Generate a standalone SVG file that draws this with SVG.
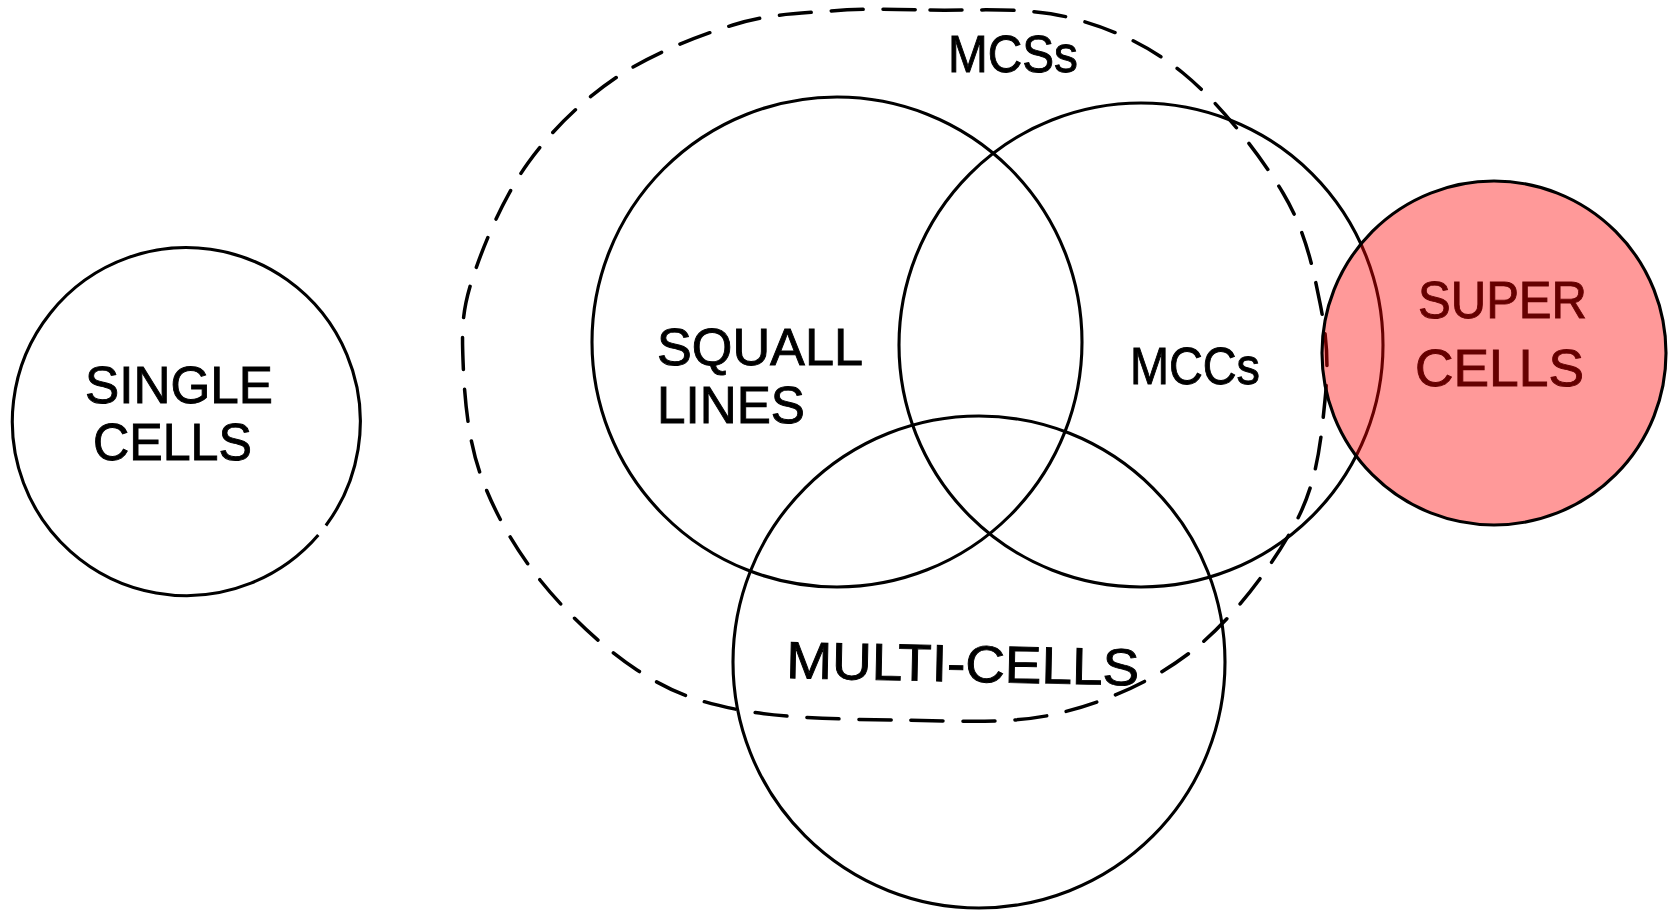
<svg xmlns="http://www.w3.org/2000/svg" width="1677" height="910" viewBox="0 0 1677 910">
  <style>
    .ring { fill: none; stroke: #000; stroke-width: 3.1; }
    .dash { fill: none; stroke: #000; stroke-width: 3.5; stroke-dasharray: 32 20; stroke-linecap: round; }
    .lbl { font-family: "Liberation Sans", Arial, sans-serif; font-size: 52px; fill: #000; stroke: #000; stroke-width: 0.9; }
    .hot { fill: #ff0000; fill-opacity: 0.4; stroke: #000; stroke-width: 3.1; }
    .hotlbl { fill: #660000; stroke: #660000; }
  </style>
  <rect width="1677" height="910" fill="#fff"/>

  <!-- Mesoscale convective systems: dashed envelope -->
  <g id="node-mcs">
    <path class="dash" d="M 930,10 C 969.5,11 1024.8,6.5 1067,17 C 1109.2,27.5 1147,43.7 1183,73 C 1219,102.3 1260.2,154.7 1283,193 C 1305.8,231.3 1313,268.5 1320,303 C 1327,337.5 1328.8,363.8 1325,400 C 1321.2,436.2 1318.3,478.8 1297,520 C 1275.7,561.2 1236.5,614.8 1197,647 C 1157.5,679.2 1109.5,700.8 1060,713 C 1010.5,725.2 953.3,720.5 900,720 C 846.7,719.5 783.8,718.3 740,710 C 696.2,701.7 670.3,691.7 637,670 C 603.7,648.3 566.2,612.8 540,580 C 513.8,547.2 492.8,509.7 480,473 C 467.2,436.3 464.2,392.7 463,360 C 461.8,327.3 462.2,309.8 473,277 C 483.8,244.2 504,196.3 528,163 C 552,129.7 582.8,100 617,77 C 651.2,54 697.5,36 733,25 C 768.5,14 797.2,13.5 830,11 C 862.8,8.5 890.5,9 930,10 Z"/>
    <text class="lbl" x="948" y="72" textLength="130" lengthAdjust="spacingAndGlyphs">MCSs</text>
  </g>

  <!-- Single cells -->
  <g id="node-single">
    <path class="ring" d="M 325.9,525.5 A 174 174 0 1 0 318.3,535"/>
    <text class="lbl" x="85" y="403" textLength="188" lengthAdjust="spacingAndGlyphs">SINGLE</text>
    <text class="lbl" x="93" y="460" textLength="159" lengthAdjust="spacingAndGlyphs">CELLS</text>
  </g>

  <!-- Squall lines -->
  <g id="node-squall">
    <circle class="ring" cx="837" cy="342" r="245"/>
    <text class="lbl" x="657" y="365" textLength="206" lengthAdjust="spacingAndGlyphs">SQUALL</text>
    <text class="lbl" x="657" y="423" textLength="148" lengthAdjust="spacingAndGlyphs">LINES</text>
  </g>

  <!-- Mesoscale convective complexes -->
  <g id="node-mccs">
    <circle class="ring" cx="1141" cy="345" r="242"/>
    <text class="lbl" x="1130" y="384" textLength="130" lengthAdjust="spacingAndGlyphs">MCCs</text>
  </g>

  <!-- Multi-cells -->
  <g id="node-multi">
    <circle class="ring" cx="979" cy="662" r="246"/>
    <text class="lbl" x="786" y="678" textLength="353" lengthAdjust="spacingAndGlyphs" transform="rotate(1.2 786 678)">MULTI-CELLS</text>
  </g>

  <!-- Supercells: translucent red disc laid over the drawing -->
  <g id="node-super">
    <circle class="hot" cx="1494" cy="353" r="172"/>
    <text class="lbl hotlbl" x="1418" y="318" textLength="169" lengthAdjust="spacingAndGlyphs">SUPER</text>
    <text class="lbl hotlbl" x="1415" y="386" textLength="169" lengthAdjust="spacingAndGlyphs">CELLS</text>
  </g>
</svg>
